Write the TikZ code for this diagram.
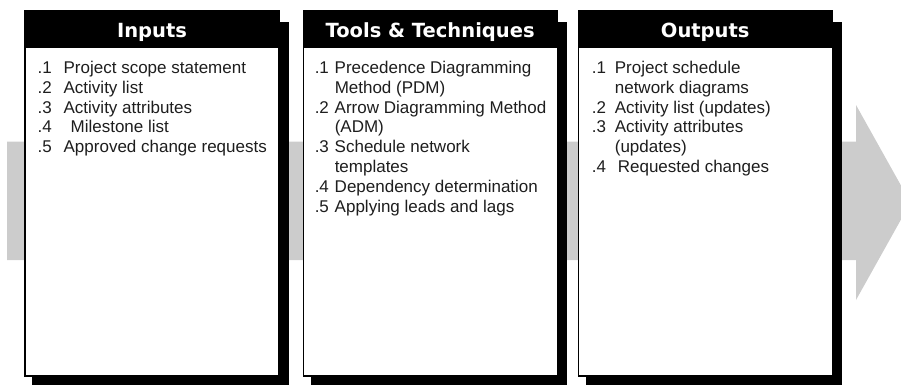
\documentclass[tikz,border=0pt]{standalone}
\usepackage{fontspec}
\setmainfont{Liberation Sans}
\newfontfamily\headfont{DejaVu Sans}
\usepackage{xcolor}
\definecolor{bandgray}{RGB}{204,204,204}
\definecolor{itemtext}{RGB}{30,30,30}
\usetikzlibrary{positioning,calc,backgrounds}
\newcommand{\itemno}[2]{\makebox[#1][l]{#2}}
\tikzset{
	panel/.style     = {rectangle,draw=black,line width=1.1pt,fill=white,
		minimum width=254pt,minimum height=365pt,inner sep=0pt},
	panelhead/.style = {rectangle,fill=black,text=white,
		minimum width=255pt,minimum height=37pt,inner sep=0pt,
		text height=20pt,text depth=2.4pt,
		font=\headfont\bfseries\fontsize{19.5}{22}\selectfont},
	itemlist/.style  = {anchor=north west,align=left,inner sep=0pt,
		text=itemtext,font=\fontsize{17}{19.8}\selectfont},
	shadowbox/.style = {fill=black},
}

\begin{document}
\begin{tikzpicture}[x=1pt,y=-1pt]
			\useasboundingbox (0,0) rectangle (901,384);
			\clip (0,0) rectangle (901,384);
			
			\node (inbox) [panel] at (152,193.5) {};
			\node (ttbox) [panel,right=23pt of inbox] {};
			\node (outbox) [panel,right=20pt of ttbox] {};
			
			\node (inhead) [panelhead,anchor=north] at (inbox.north) {Inputs};
			\node (tthead) [panelhead,anchor=north] at (ttbox.north) {Tools \& Techniques};
			\node (outhead) [panelhead,anchor=north] at (outbox.north) {Outputs};
			
			\node (inlist) [itemlist] at ($(inbox.north west)+(13,50.5)$)
			{\itemno{26pt}{.1}Project scope statement\\
				\itemno{26pt}{.2}Activity list\\
				\itemno{26pt}{.3}Activity attributes\\
				\itemno{33pt}{.4}Milestone list\\
				\itemno{26pt}{.5}Approved change requests};
			\node (ttlist) [itemlist] at ($(ttbox.north west)+(12,50.5)$)
			{\itemno{20pt}{.1}Precedence Diagramming\\
				\hspace*{20pt}Method (PDM)\\
				\itemno{20pt}{.2}Arrow Diagramming Method\\
				\hspace*{20pt}(ADM)\\
				\itemno{20pt}{.3}Schedule network\\
				\hspace*{20pt}templates\\
				\itemno{20pt}{.4}Dependency determination\\
				\itemno{20pt}{.5}Applying leads and lags};
			\node (outlist) [itemlist] at ($(outbox.north west)+(14,50.5)$)
			{\itemno{23pt}{.1}Project schedule\\
				\hspace*{23pt}network diagrams\\
				\itemno{23pt}{.2}Activity list (updates)\\
				\itemno{23pt}{.3}Activity attributes\\
				\hspace*{23pt}(updates)\\
				\itemno{26pt}{.4}Requested changes};
			
			%% grey flow arrow and drop shadows behind the panels
			\begin{scope}[on background layer]
				\fill[bandgray] (7,141.7) -- (856,141.7) -- (856,105) -- (910.5,202.5)
				-- (856,300) -- (856,260) -- (7,260) -- cycle;
				\foreach \b in {inbox,ttbox,outbox}
				\fill[shadowbox] ($(\b.north west)+(8,12)$) rectangle ($(\b.south east)+(9,9)$);
			\end{scope}
		\end{tikzpicture}
\end{document}
